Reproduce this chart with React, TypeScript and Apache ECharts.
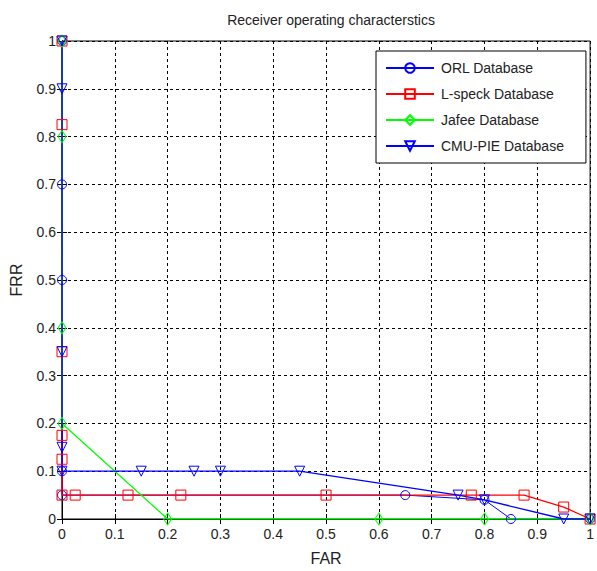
import React, { useEffect, useRef } from "react";
import * as echarts from "echarts";

const TITLE = "Receiver operating characterstics";
const X_NAME = "FAR";
const Y_NAME = "FRR";

const seriesNames = ["ORL Database", "L-speck Database", "Jafee Database", "CMU-PIE Database"];
const seriesColors = ["#0000ff", "#ff0000", "#00ff00", "#0000ff"];

// [FAR, FRR]
const orlData: number[][] = [
  [0, 1], [0, 0.7], [0, 0.5], [0, 0.1], [0, 0.05], [0.65, 0.05], [0.8, 0.04], [0.85, 0], [1, 0],
];
const lspeckData: number[][] = [
  [0, 1], [0, 0.825], [0, 0.35], [0, 0.175], [0, 0.125], [0, 0.05], [0.025, 0.05], [0.125, 0.05],
  [0.225, 0.05], [0.5, 0.05], [0.775, 0.05], [0.875, 0.05], [0.95, 0.025], [1, 0],
];
const jafeeData: number[][] = [
  [0, 1], [0, 0.8], [0, 0.4], [0, 0.2], [0.2, 0], [0.6, 0], [0.8, 0], [1, 0],
];
const cmuData: number[][] = [
  [0, 1], [0, 0.9], [0, 0.35], [0, 0.15], [0, 0.1], [0.15, 0.1], [0.25, 0.1], [0.3, 0.1],
  [0.45, 0.1], [0.75, 0.05], [0.8, 0.04], [0.95, 0], [1, 0],
];

const FONT = "'Liberation Sans', Arial, sans-serif";

export default function App() {
  const ref = useRef<HTMLDivElement>(null);
  useEffect(() => {
    if (!ref.current) return;
    const chart = echarts.init(ref.current, undefined, { renderer: "svg" });
    const datas = [orlData, lspeckData, jafeeData, cmuData];
    const symbols = ["circle", "rect", "diamond", "triangle"];
    const sizes: any[] = [9, 10, [8, 12], 10];
    const rotates = [0, 0, 0, 180];
    const widths = [1, 1.3, 1.3, 1.3];
    const gridLine = { show: true, lineStyle: { color: "#000", type: [3, 3], width: 1 } };
    chart.setOption({
      animation: false,
      backgroundColor: "#fff",
      title: {
        text: TITLE,
        left: 326,
        top: 8,
        textAlign: "center",
        textStyle: { fontFamily: FONT, fontSize: 14, fontWeight: "normal", color: "#222" },
      },
      legend: {
        orient: "vertical",
        left: 376,
        top: 51,
        padding: [10, 22, 10, 9],
        itemWidth: 48,
        itemHeight: 12,
        itemGap: 12,
        backgroundColor: "#fff",
        borderColor: "#000",
        borderWidth: 1,
        borderRadius: 0,
        textStyle: { fontFamily: FONT, fontSize: 14, color: "#222", padding: [0, 0, 0, 2] },
        data: seriesNames,
      },
      grid: { left: 61, right: 5, top: 41, bottom: 48, show: true, borderColor: "#000", borderWidth: 1 },
      xAxis: [
        {
          type: "value",
          min: 0,
          max: 1,
          interval: 0.1,
          name: X_NAME,
          nameLocation: "middle",
          nameGap: 31,
          nameTextStyle: { fontFamily: FONT, fontSize: 16, color: "#222" },
          axisLine: { show: true, lineStyle: { color: "#000" } },
          axisTick: { show: true, inside: true, length: 5, lineStyle: { color: "#000" } },
          axisLabel: { fontFamily: FONT, fontSize: 14, color: "#222", margin: 8 },
          splitLine: gridLine,
        },
        {
          type: "value",
          position: "top",
          min: 0,
          max: 1,
          interval: 0.1,
          axisLine: { show: true, lineStyle: { color: "#000" } },
          axisTick: { show: true, inside: true, length: 5, lineStyle: { color: "#000" } },
          axisLabel: { show: false },
          splitLine: { show: false },
        },
      ],
      yAxis: [
        {
          type: "value",
          min: 0,
          max: 1,
          interval: 0.1,
          name: Y_NAME,
          nameLocation: "middle",
          nameGap: 38,
          nameTextStyle: { fontFamily: FONT, fontSize: 16, color: "#222" },
          axisLine: { show: true, lineStyle: { color: "#000" } },
          axisTick: { show: true, inside: true, length: 5, lineStyle: { color: "#000" } },
          axisLabel: { fontFamily: FONT, fontSize: 14, color: "#222", margin: 6 },
          splitLine: gridLine,
        },
        {
          type: "value",
          position: "right",
          min: 0,
          max: 1,
          interval: 0.1,
          axisLine: { show: true, lineStyle: { color: "#000" } },
          axisTick: { show: true, inside: true, length: 5, lineStyle: { color: "#000" } },
          axisLabel: { show: false },
          splitLine: { show: false },
        },
      ],
      series: seriesNames.map((name, i) => ({
        name,
        type: "line",
        data: datas[i],
        symbol: symbols[i],
        symbolSize: sizes[i],
        symbolRotate: rotates[i],
        showAllSymbol: true,
        lineStyle: { color: seriesColors[i], width: widths[i] },
        itemStyle: { color: "rgba(0,0,0,0)", borderColor: seriesColors[i], borderWidth: 1 },
        emphasis: { disabled: true },
      })),
    });
    return () => chart.dispose();
  }, []);
  return (
    <div
      ref={ref}
      style={{ position: "fixed", left: 0, top: 0, width: 597, height: 571 }}
    />
  );
}
